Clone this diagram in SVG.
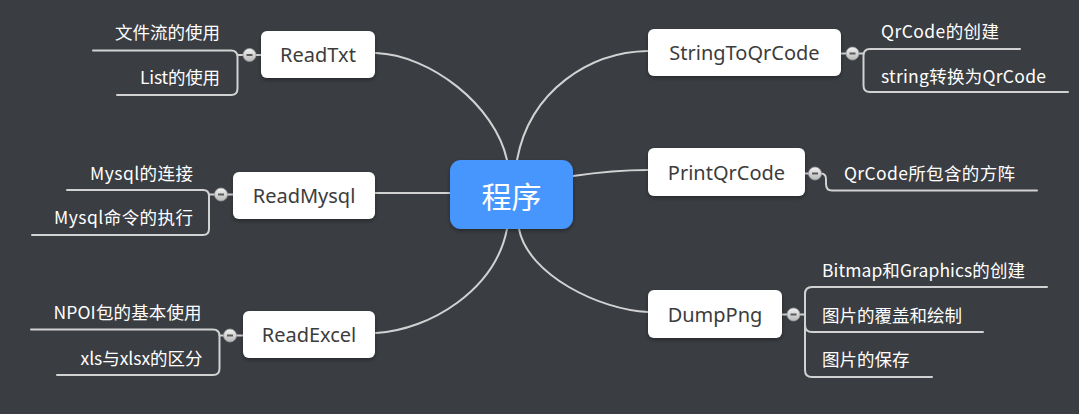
<svg xmlns="http://www.w3.org/2000/svg" width="1079" height="414" viewBox="0 0 1079 414">
<style>
.bg{fill:#3a3d42}
.ln{fill:none;stroke:#d2d2d2;stroke-width:2;stroke-linecap:round}
.node{fill:#ffffff}
.nt{font-family:"Noto Sans","Noto Sans CJK SC",sans-serif;font-size:20px;fill:#3c3c3c;text-anchor:middle}
.ct{font-family:"Noto Sans CJK SC","Noto Sans",sans-serif;font-size:17.5px;fill:#ffffff}
.r{text-anchor:end}
.tog{fill:url(#tg);stroke:#9a9a9a;stroke-width:0.8}
.minus{stroke:#5a5a5a;stroke-width:2}
</style>
<defs>
<linearGradient id="tg" x1="0" y1="0" x2="0" y2="1">
<stop offset="0" stop-color="#f2f2f2"/>
<stop offset="1" stop-color="#b8b8b8"/>
</linearGradient>
<filter id="sh" x="-20%" y="-20%" width="140%" height="150%">
<feDropShadow dx="0" dy="2" stdDeviation="2" flood-color="#000" flood-opacity="0.35"/>
</filter>
</defs>
<rect class="bg" x="0" y="0" width="1079" height="414"/>

<g id="connectors">
<path class="ln" d="M376,53 C430,55 495,105 507,160"/>
<path class="ln" d="M375,193 H450"/>
<path class="ln" d="M376,333 C430,330 495,290 507,229"/>
<path class="ln" d="M648,51 C590,52 530,90 517,160"/>
<path class="ln" d="M573,176 C600,172 620,170 648,170"/>
<path class="ln" d="M648,312 C600,310 528,275 519,229"/>
<!-- ReadTxt children -->
<path class="ln" d="M93,50.5 H231 Q237.5,50.5 237.5,57 V88.5 Q237.5,95 231,95 H117"/>
<path class="ln" d="M237.5,55 H244 M255,55 H261"/>
<!-- ReadMysql children -->
<path class="ln" d="M67,190 H203 Q209,190 209,196 V229 Q209,235 203,235 H32"/>
<path class="ln" d="M209,194.5 H215 M227,194.5 H233"/>
<!-- ReadExcel children -->
<path class="ln" d="M31,329.5 H213 Q219.5,329.5 219.5,336 V368.5 Q219.5,375 213,375 H57"/>
<path class="ln" d="M219.5,335.5 H224 M236,335.5 H243"/>
<!-- StringToQrCode children -->
<path class="ln" d="M1020,49 H870 Q863.5,49 863.5,55.5 V85.5 Q863.5,92 870,92 H1068"/>
<path class="ln" d="M841,53.5 H847 M858,53.5 H863.5"/>
<!-- PrintQrCode child -->
<path class="ln" d="M805,173.5 H809 M821,173.5 Q826,173.5 826,179 V184 Q826,190.5 832,190.5 H1037"/>
<!-- DumpPng children -->
<path class="ln" d="M1047,287 H812 Q805,287 805,294 V370 Q805,377 812,377 H932"/>
<path class="ln" d="M805,325 Q805,332 812,332 H983"/>
<path class="ln" d="M782,314.5 H788 M799,314.5 H805"/>
</g>

<g id="center">
<rect x="450" y="160" width="123" height="69" rx="11" fill="#4796fd" filter="url(#sh)"/>
<text x="511.5" y="208" font-family="Noto Sans CJK SC, sans-serif" font-size="30" fill="#ffffff" text-anchor="middle">程序</text>
</g>

<g id="readtxt">
<rect class="node" x="261" y="31" width="114" height="47" rx="6" filter="url(#sh)"/>
<text class="nt" x="318" y="62">ReadTxt</text>
<circle class="tog" cx="249.5" cy="55" r="6.5"/><path class="minus" d="M246.5,55 H252.5"/>
<text class="ct r" x="220" y="38.5" textLength="105">文件流的使用</text>
<text class="ct r" x="220" y="83.5" textLength="80">List的使用</text>
</g>

<g id="readmysql">
<rect class="node" x="233" y="172" width="142" height="47" rx="6" filter="url(#sh)"/>
<text class="nt" x="304" y="203">ReadMysql</text>
<circle class="tog" cx="221" cy="194.5" r="6.5"/><path class="minus" d="M218,194.5 H224"/>
<text class="ct r" x="193" y="179.5" textLength="103">Mysql的连接</text>
<text class="ct r" x="193" y="224" textLength="139">Mysql命令的执行</text>
</g>

<g id="readexcel">
<rect class="node" x="243" y="311" width="132" height="47" rx="6" filter="url(#sh)"/>
<text class="nt" x="309" y="342">ReadExcel</text>
<circle class="tog" cx="230" cy="335.5" r="6.5"/><path class="minus" d="M227,335.5 H233"/>
<text class="ct r" x="201.5" y="319" textLength="148">NPOI包的基本使用</text>
<text class="ct r" x="202.5" y="365" textLength="122">xls与xlsx的区分</text>
</g>

<g id="stringtoqrcode">
<rect class="node" x="648" y="29" width="193" height="47" rx="6" filter="url(#sh)"/>
<text class="nt" x="744.5" y="60">StringToQrCode</text>
<circle class="tog" cx="852.5" cy="53.5" r="6.5"/><path class="minus" d="M849.5,53.5 H855.5"/>
<text class="ct" x="881" y="37.5" textLength="118">QrCode的创建</text>
<text class="ct" x="881" y="82.5" textLength="165">string转换为QrCode</text>
</g>

<g id="printqrcode">
<rect class="node" x="648" y="148" width="157" height="48" rx="6" filter="url(#sh)"/>
<text class="nt" x="726.5" y="179.5">PrintQrCode</text>
<circle class="tog" cx="815" cy="173.5" r="6.5"/><path class="minus" d="M812,173.5 H818"/>
<text class="ct" x="844" y="179.5" textLength="171">QrCode所包含的方阵</text>
</g>

<g id="dumppng">
<rect class="node" x="648" y="290" width="134" height="48" rx="6" filter="url(#sh)"/>
<text class="nt" x="715" y="321.5">DumpPng</text>
<circle class="tog" cx="793.5" cy="314.5" r="6.5"/><path class="minus" d="M790.5,314.5 H796.5"/>
<text class="ct" x="822" y="277" textLength="203">Bitmap和Graphics的创建</text>
<text class="ct" x="822" y="321.5" textLength="140">图片的覆盖和绘制</text>
<text class="ct" x="822" y="366" textLength="87.5">图片的保存</text>
</g>
</svg>
